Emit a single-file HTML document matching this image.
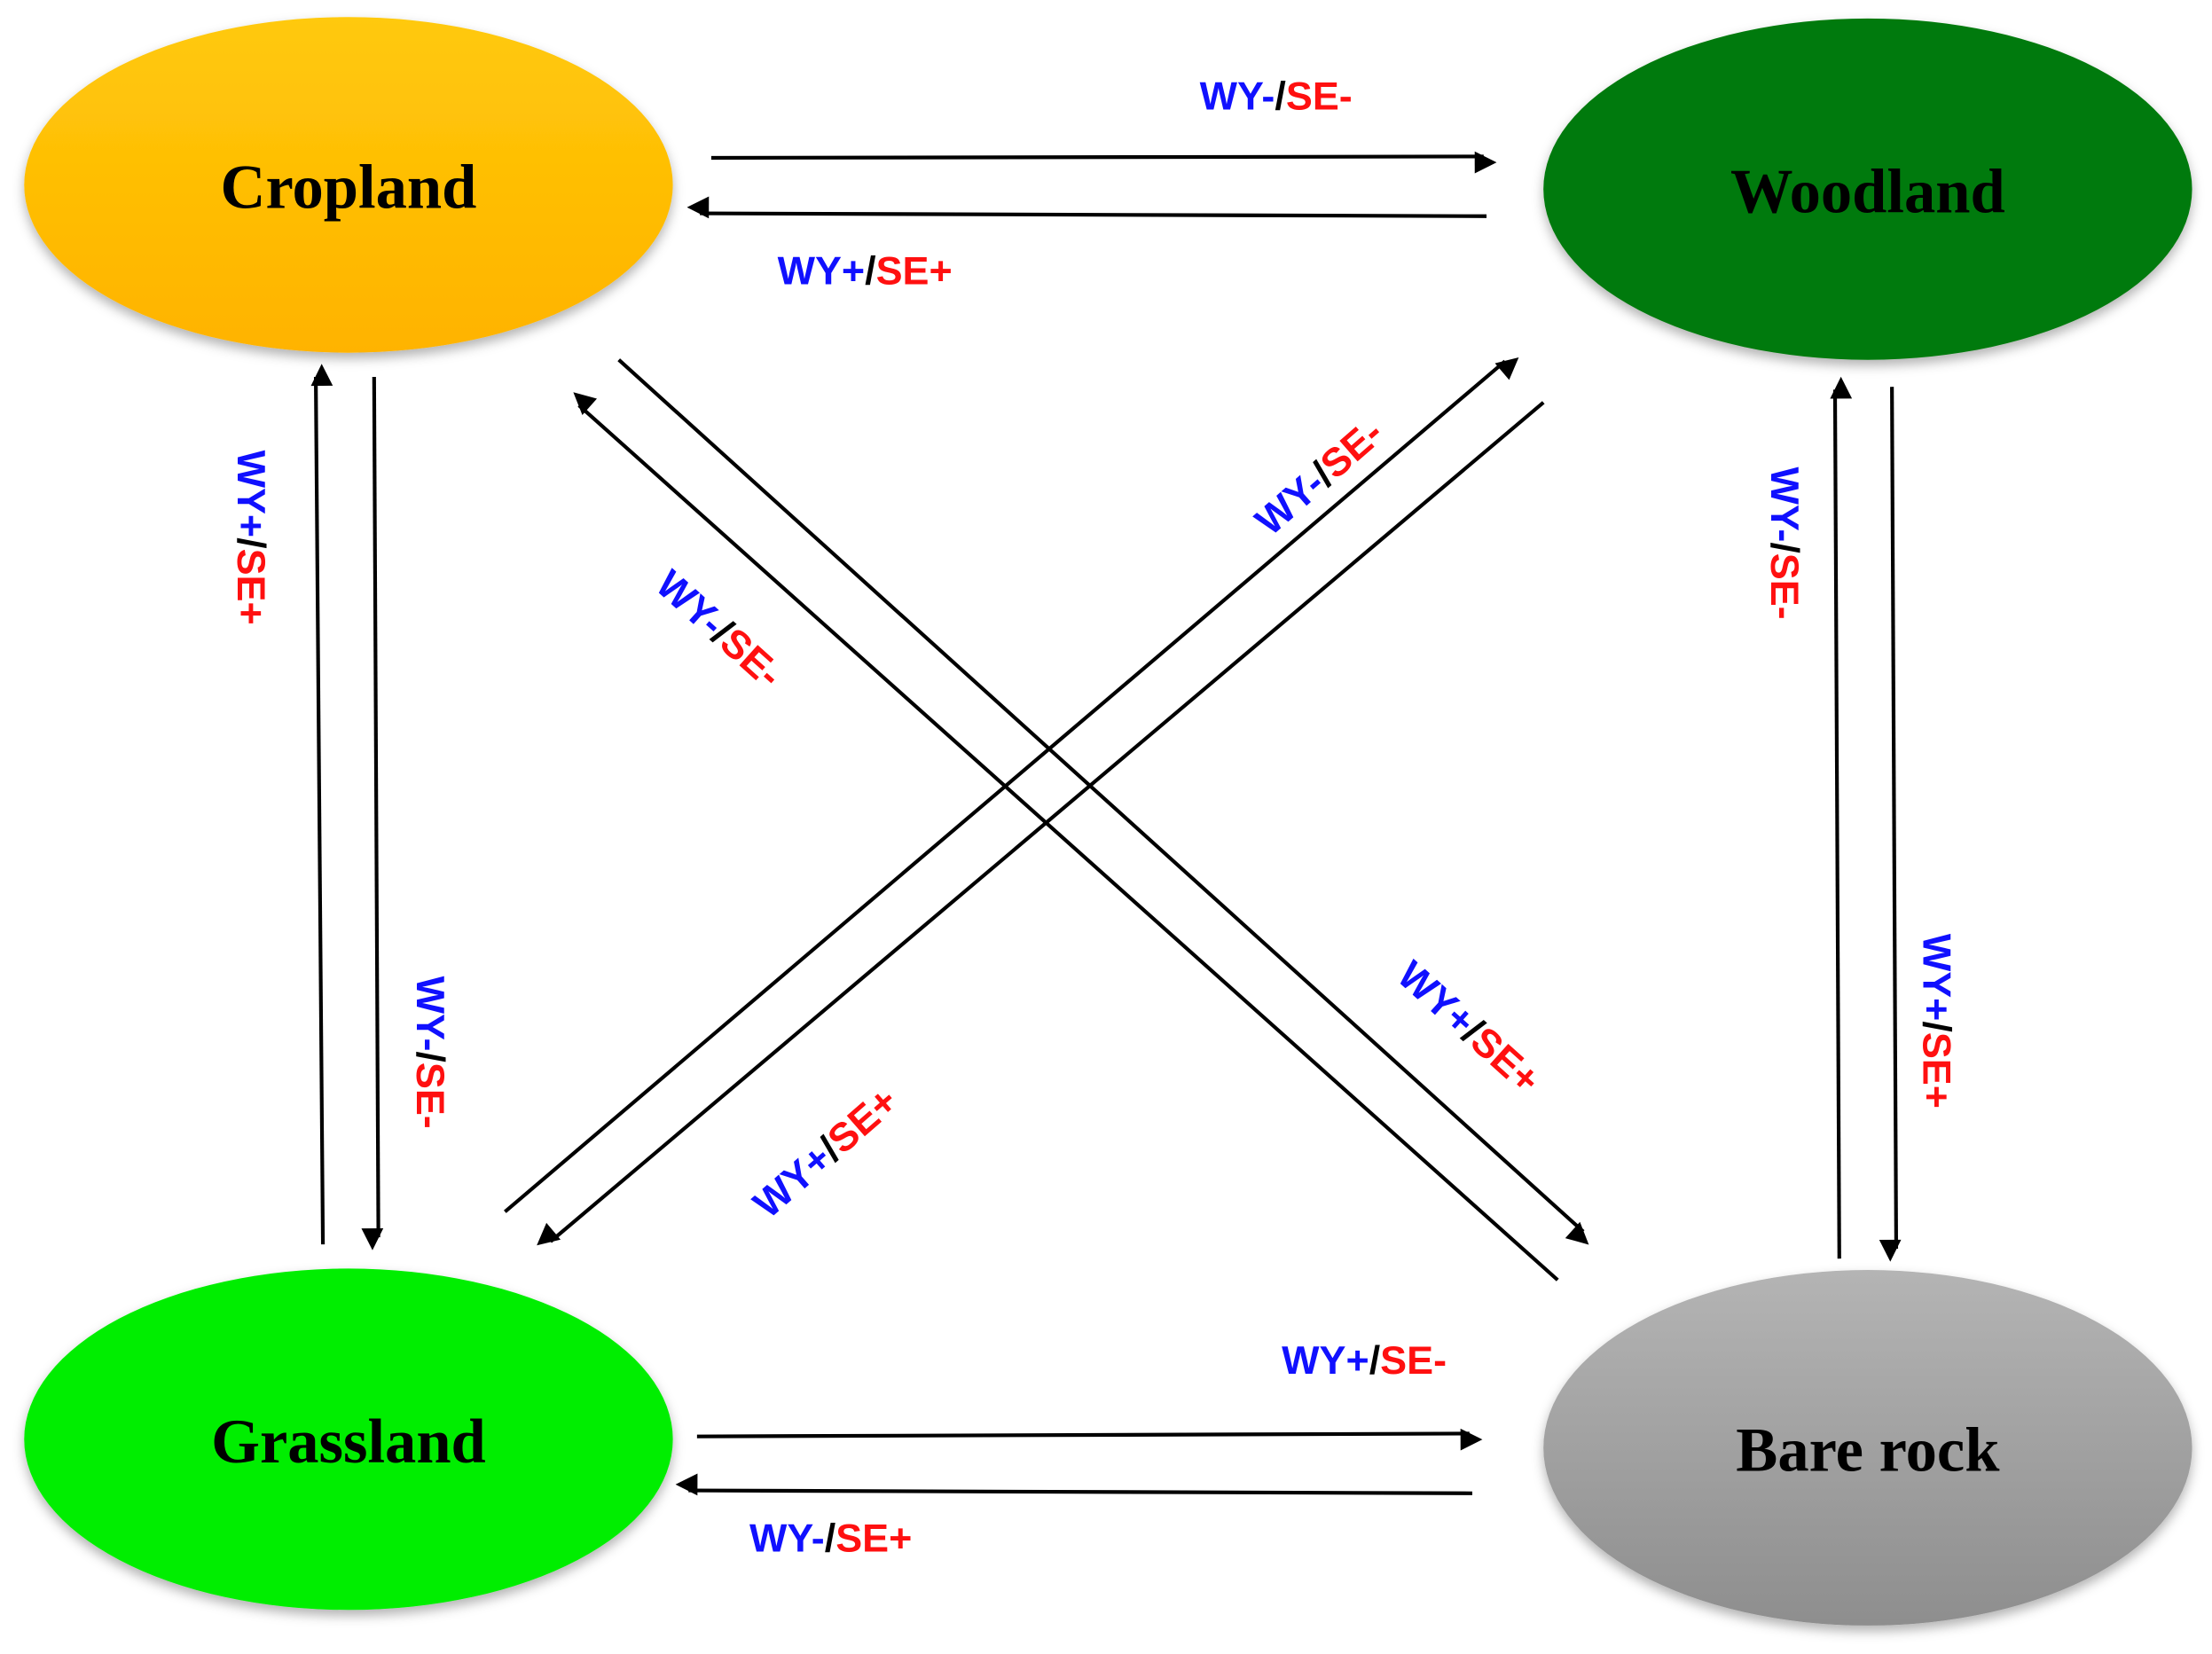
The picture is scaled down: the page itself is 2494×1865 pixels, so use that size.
<!DOCTYPE html>
<html><head><meta charset="utf-8"><style>
html,body{margin:0;padding:0;background:#fff}
svg{display:block}
.n{font-family:"Liberation Serif",serif;font-weight:bold;font-size:44px;text-anchor:middle;dominant-baseline:central}
.l{font-family:"Liberation Sans",sans-serif;font-weight:bold;font-size:28px;text-anchor:middle;dominant-baseline:central}
.b{fill:#1010ff}.r{fill:#ff1010}.k{fill:#000}
line{stroke:#000;stroke-width:2.6}
</style></head><body>
<svg width="2494" height="1865" viewBox="0 0 1555 1163" preserveAspectRatio="none" xmlns="http://www.w3.org/2000/svg">
<defs>
<marker id="a" viewBox="0 0 10 10" refX="9" refY="5" markerWidth="8" markerHeight="7" orient="auto" markerUnits="userSpaceOnUse" style="overflow:visible">
<path d="M0,0 L10,5 L0,10 z" fill="#000" transform="scale(2.2)"/>
</marker>
<linearGradient id="gy" x1="0" y1="0" x2="0" y2="1"><stop offset="0" stop-color="#ffc90a"/><stop offset="1" stop-color="#ffb300"/></linearGradient>
<linearGradient id="gr" x1="0" y1="0" x2="0" y2="1"><stop offset="0" stop-color="#b4b4b4"/><stop offset="1" stop-color="#8e8e8e"/></linearGradient>
<filter id="sh" x="-10%" y="-10%" width="120%" height="130%"><feDropShadow dx="0" dy="4" stdDeviation="4" flood-color="#000" flood-opacity="0.3"/></filter>
</defs>
<ellipse cx="245" cy="130" rx="228" ry="118" fill="url(#gy)" filter="url(#sh)"/>
<ellipse cx="1313" cy="133" rx="228" ry="120" fill="#007a0a" filter="url(#sh)"/>
<ellipse cx="245" cy="1012" rx="228" ry="120" fill="#00ee00" filter="url(#sh)"/>
<ellipse cx="1313" cy="1018" rx="228" ry="125" fill="url(#gr)" filter="url(#sh)"/>
<text class="n" x="245" y="132">Cropland</text>
<text class="n" x="1313" y="135">Woodland</text>
<text class="n" x="245" y="1014">Grassland</text>
<text class="n" x="1313" y="1020">Bare rock</text>

<line x1="500" y1="111" x2="1043" y2="110" marker-end="url(#a)"/>
<line x1="1045" y1="152" x2="492" y2="150" marker-end="url(#a)"/>
<line x1="490" y1="1010" x2="1033" y2="1008" marker-end="url(#a)"/>
<line x1="1035" y1="1050" x2="484" y2="1048" marker-end="url(#a)"/>
<line x1="227" y1="875" x2="222" y2="265" marker-end="url(#a)"/>
<line x1="263" y1="265" x2="266" y2="870" marker-end="url(#a)"/>
<line x1="1293" y1="885" x2="1290" y2="274" marker-end="url(#a)"/>
<line x1="1330" y1="272" x2="1333" y2="878" marker-end="url(#a)"/>
<line x1="435" y1="253" x2="1113" y2="866" marker-end="url(#a)"/>
<line x1="1095" y1="900" x2="407" y2="285" marker-end="url(#a)"/>
<line x1="355" y1="852" x2="1058" y2="254" marker-end="url(#a)"/>
<line x1="1085" y1="283" x2="387" y2="873" marker-end="url(#a)"/>

<g class="l">
<text x="897" y="67"><tspan class="b">WY-</tspan><tspan class="k">/</tspan><tspan class="r">SE-</tspan></text>
<text x="608" y="190"><tspan class="b">WY+</tspan><tspan class="k">/</tspan><tspan class="r">SE+</tspan></text>
<text x="959" y="956"><tspan class="b">WY+</tspan><tspan class="k">/</tspan><tspan class="r">SE-</tspan></text>
<text x="584" y="1081"><tspan class="b">WY-</tspan><tspan class="k">/</tspan><tspan class="r">SE+</tspan></text>
<text transform="translate(177,378) rotate(90)"><tspan class="b">WY+</tspan><tspan class="k">/</tspan><tspan class="r">SE+</tspan></text>
<text transform="translate(303,740) rotate(90)"><tspan class="b">WY-</tspan><tspan class="k">/</tspan><tspan class="r">SE-</tspan></text>
<text transform="translate(1255,382) rotate(90)"><tspan class="b">WY-</tspan><tspan class="k">/</tspan><tspan class="r">SE-</tspan></text>
<text transform="translate(1362,718) rotate(90)"><tspan class="b">WY+</tspan><tspan class="k">/</tspan><tspan class="r">SE+</tspan></text>
<text transform="translate(927,335) rotate(-41)"><tspan class="b">WY-</tspan><tspan class="k">/</tspan><tspan class="r">SE-</tspan></text>
<text transform="translate(506,442) rotate(42)"><tspan class="b">WY-</tspan><tspan class="k">/</tspan><tspan class="r">SE-</tspan></text>
<text transform="translate(1033,722) rotate(42)"><tspan class="b">WY+</tspan><tspan class="k">/</tspan><tspan class="r">SE+</tspan></text>
<text transform="translate(580,810) rotate(-41)"><tspan class="b">WY+</tspan><tspan class="k">/</tspan><tspan class="r">SE+</tspan></text>
</g>
</svg>
</body></html>
